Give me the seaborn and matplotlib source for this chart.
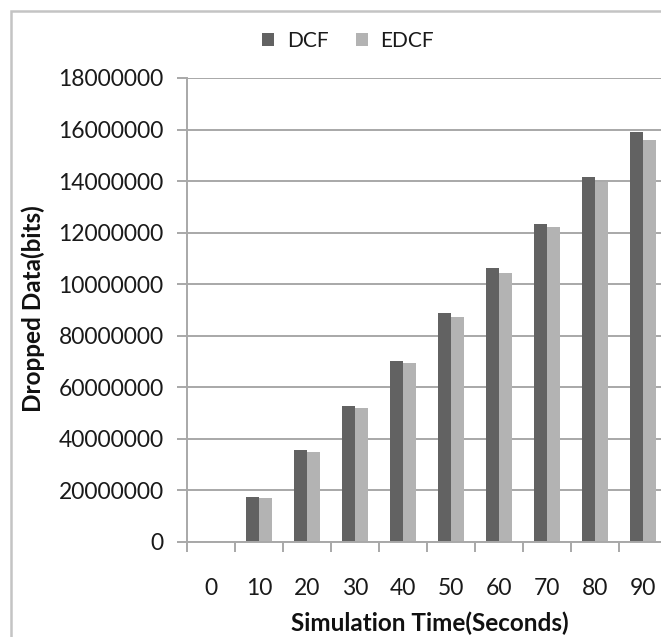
import matplotlib
matplotlib.use("Agg")
import matplotlib.pyplot as plt
from matplotlib.patches import Rectangle
from matplotlib.ticker import FixedLocator
import pandas as pd
import seaborn as sns

# Dropped data per simulation time for the two MAC schemes
times = ["0", "10", "20", "30", "40", "50", "60", "70", "80", "90"]
dcf = [0, 17.3e6, 35.7e6, 52.9e6, 70.4e6, 88.7e6, 106.3e6, 123.5e6, 141.6e6, 158.9e6]
edcf = [0, 17.1e6, 34.8e6, 52.0e6, 69.5e6, 87.1e6, 104.3e6, 122.1e6, 139.7e6, 156.0e6]
series = ["DCF", "EDCF"]

ytick_values = [0, 20e6, 40e6, 60e6, 80e6, 100e6, 120e6, 140e6, 160e6, 180e6]
ytick_labels = ["0", "20000000", "40000000", "60000000", "80000000",
                "10000000", "12000000", "14000000", "16000000", "18000000"]

df = pd.DataFrame({
    "time": times * 2,
    "dropped": dcf + edcf,
    "scheme": [series[0]] * len(times) + [series[1]] * len(times),
})

sns.set_style("white")
plt.rcParams["font.family"] = ["Lato", "DejaVu Sans"]

W, H = 661, 637
fig = plt.figure(figsize=(W / 100, H / 100), dpi=100)
ax = fig.add_axes([187.3 / W, 95 / H, 480 / W, 464 / H])

grid_c = "#a8a8a8"
sns.barplot(data=df, x="time", y="dropped", hue="scheme", order=times,
            hue_order=series, palette={"DCF": "#626262", "EDCF": "#b3b3b3"},
            width=0.535, saturation=1, linewidth=0, errorbar=None, ax=ax)

ax.set_xlim(-0.5, len(times) - 0.5)
ax.set_ylim(0, 180e6)
ax.yaxis.set_major_locator(FixedLocator(ytick_values))
ax.set_yticklabels(ytick_labels)
ax.yaxis.grid(True, color=grid_c, lw=1.4)
ax.set_axisbelow(True)

for s in ["top", "right"]:
    ax.spines[s].set_visible(False)
for s in ["left", "bottom"]:
    ax.spines[s].set_color(grid_c)
    ax.spines[s].set_linewidth(1.4)

# category separators as minor ticks below the axis
ax.set_xticks([i - 0.5 for i in range(len(times) + 1)], minor=True)
ax.tick_params(axis="x", which="minor", direction="out", length=7, width=1.4,
               color=grid_c)
ax.tick_params(axis="x", which="major", length=0, pad=26, labelsize=16.5,
               labelcolor="#1a1a1a")
ax.tick_params(axis="y", which="major", direction="out", length=7, width=1.4,
               color=grid_c, pad=10, labelsize=16.5, labelcolor="#1a1a1a")
ax.tick_params(left=True, bottom=False)
ax.tick_params(axis="x", which="minor", bottom=True)

ax.set_xlabel("")
ax.set_ylabel("")
fig.text(430 / W, 1 - 623 / H, "Simulation Time(Seconds)", ha="center",
         va="center", fontsize=17.5, fontweight="bold", color="#111111")
fig.text(33 / W, 1 - 309 / H, "Dropped Data(bits)", ha="center", va="center",
         rotation=90, fontsize=17.5, fontweight="bold", color="#111111")

leg = ax.legend(loc="center", bbox_to_anchor=(348 / W, 1 - 41 / H),
                bbox_transform=fig.transFigure, ncol=2, frameon=False,
                fontsize=15, handlelength=0.6, handleheight=0.6,
                handletextpad=0.6, columnspacing=1.3)
for t in leg.get_texts():
    t.set_color("#1a1a1a")

# chart frame
fig.patches.append(Rectangle((11 / W, -0.1), 2, 1.1 - 11 / H,
                             transform=fig.transFigure, fill=False,
                             edgecolor="#c4c4c4", lw=1.8))

fig.savefig("out.png", dpi=100)
